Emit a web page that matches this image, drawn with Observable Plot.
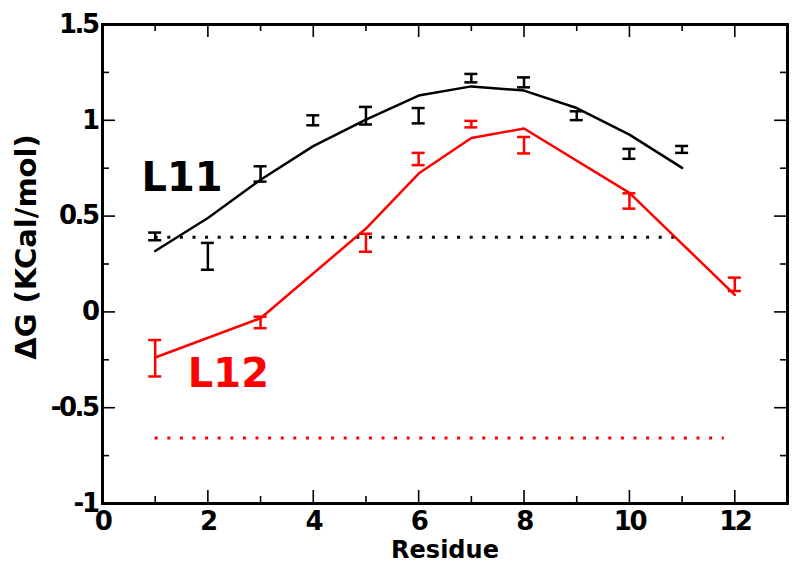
<!DOCTYPE html>
<html><head><meta charset="utf-8">
<script src="https://cdn.jsdelivr.net/npm/d3@7"></script>
<script src="https://cdn.jsdelivr.net/npm/@observablehq/plot@0.6"></script>
<style>
body{margin:0;background:#fff}
g[aria-label="x-axis tick label"] text, g[aria-label="y-axis tick label"] text{letter-spacing:-2.5px}
</style>
</head><body><div id="chart"></div>
<script>
// L11 data
const residues11 = [1,2,3,4,5,6,7,8,9,10,11];
const fit11 = [0.318,0.49,0.69,0.865,1.004,1.129,1.177,1.155,1.064,0.925,0.752];
const obs11 = [0.394,0.29,0.72,1.0,1.024,1.024,1.22,1.198,1.024,0.825,0.848];
const err11 = [0.02,0.07,0.04,0.026,0.046,0.04,0.022,0.026,0.023,0.026,0.018];
// L12 data
const residues12 = [1,3,5,6,7,8,10,12];
const fit12 = [-0.238,-0.033,0.435,0.722,0.908,0.957,0.621,0.089];
const obs12 = [-0.242,-0.055,0.361,0.798,0.98,0.87,0.579,0.144];
const err12 = [0.095,0.03,0.047,0.032,0.017,0.043,0.04,0.035];
// reference (dotted) levels
const refLevel = [0.39, -0.658];
const refStart = [1, 1];
const refEnd = [10.9, 11.8];
const seriesNames = ["L11", "L12"];
const seriesColors = ["#000000", "#ff0000"];
const labelX = [1.51, 2.39];
const labelY = [0.70, -0.325];
// ticks
const xMajor = [0,2,4,6,8,10,12];
const xMinor = [1,3,5,7,9,11,13];
const yMajor = [-1,-0.5,0,0.5,1,1.5];
const yMinor = [-0.75,-0.25,0.25,0.75,1.25];
const xTitle = "Residue";
const yTitle = "ΔG (KCal/mol)";

const W = 800, H = 571, mt = 24, mb = 68, ml = 102, mr = 13;
const innerH = H - mt - mb, innerW = W - ml - mr;
const majorLen = 13, minorLen = 7;

const pts11 = residues11.map((r,i)=>({x:r, fit:fit11[i], y:obs11[i], lo:obs11[i]-err11[i], hi:obs11[i]+err11[i]}));
const pts12 = residues12.map((r,i)=>({x:r, fit:fit12[i], y:obs12[i], lo:obs12[i]-err12[i], hi:obs12[i]+err12[i]}));
const refs = refLevel.map((v,i)=>({y:v, x1:refStart[i], x2:refEnd[i], c:seriesColors[i]}));
const labels = seriesNames.map((n,i)=>({n, x:labelX[i], y:labelY[i], c:seriesColors[i]}));

function errMarks(data, color){
  return [
    Plot.ruleX(data, {x:"x", y1:"lo", y2:"hi", stroke:color, strokeWidth:2.5}),
    Plot.ruleY(data, {y:"hi", x1:"x", x2:"x", insetLeft:-6.5, insetRight:-6.5, stroke:color, strokeWidth:2.5}),
    Plot.ruleY(data, {y:"lo", x1:"x", x2:"x", insetLeft:-6.5, insetRight:-6.5, stroke:color, strokeWidth:2.5})
  ];
}

const chart = Plot.plot({
  width: W, height: H,
  marginTop: mt, marginBottom: mb, marginLeft: ml, marginRight: mr,
  style: {fontFamily: "DejaVu Sans", background: "#fff"},
  x: {domain: [0, 13]},
  y: {domain: [-1, 1.5]},
  marks: [
    // inward ticks on all four sides
    Plot.tickX(xMajor, {x: d=>d, insetTop: innerH - majorLen, stroke:"#000", strokeWidth:1.6}),
    Plot.tickX(xMajor, {x: d=>d, insetBottom: innerH - majorLen, stroke:"#000", strokeWidth:1.6}),
    Plot.tickX(xMinor, {x: d=>d, insetTop: innerH - minorLen, stroke:"#000", strokeWidth:1.6}),
    Plot.tickX(xMinor, {x: d=>d, insetBottom: innerH - minorLen, stroke:"#000", strokeWidth:1.6}),
    Plot.tickY(yMajor, {y: d=>d, insetRight: innerW - majorLen, stroke:"#000", strokeWidth:1.6}),
    Plot.tickY(yMajor, {y: d=>d, insetLeft: innerW - majorLen, stroke:"#000", strokeWidth:1.6}),
    Plot.tickY(yMinor, {y: d=>d, insetRight: innerW - minorLen, stroke:"#000", strokeWidth:1.6}),
    Plot.tickY(yMinor, {y: d=>d, insetLeft: innerW - minorLen, stroke:"#000", strokeWidth:1.6}),
    // tick labels
    Plot.axisX(xMajor, {tickSize: 0, tickPadding: 8, fontSize: 26, fontWeight: "bold", tickFormat: d=>String(d), label: null}),
    Plot.axisY(yMajor, {tickSize: 0, tickPadding: 5, fontSize: 26, fontWeight: "bold", tickFormat: d=>String(d), label: null}),
    // axis titles
    Plot.text([xTitle], {text: d=>d, frameAnchor: "bottom", dy: 47, lineAnchor: "middle", fontSize: 24, fontWeight: "bold", fill:"#000"}),
    Plot.text([yTitle], {text: d=>d, frameAnchor: "left", textAnchor: "middle", dx: -76, dy: -17, rotate: -90, lineAnchor: "middle", fontSize: 29, fontWeight: "bold", fill:"#000"}),
    // dotted reference lines
    Plot.ruleY(refs, {y:"y", x1:"x1", x2:"x2", stroke:"c", strokeWidth:3, strokeDasharray:"3,9.6"}),
    // fitted lines
    Plot.line(pts11, {x:"x", y:"fit", stroke:"#000", strokeWidth:2.5}),
    Plot.line(pts12, {x:"x", y:"fit", stroke:"#ff0000", strokeWidth:2.5}),
    // error bars
    ...errMarks(pts11, "#000"),
    ...errMarks(pts12, "#ff0000"),
    // series labels
    Plot.text(labels, {x:"x", y:"y", text:"n", fill:"c", fontSize: 40, fontWeight:"bold", lineAnchor:"middle"}),
    Plot.frame({stroke:"#000", strokeWidth:3})
  ]
});
document.getElementById("chart").appendChild(chart);
</script>
</body></html>
